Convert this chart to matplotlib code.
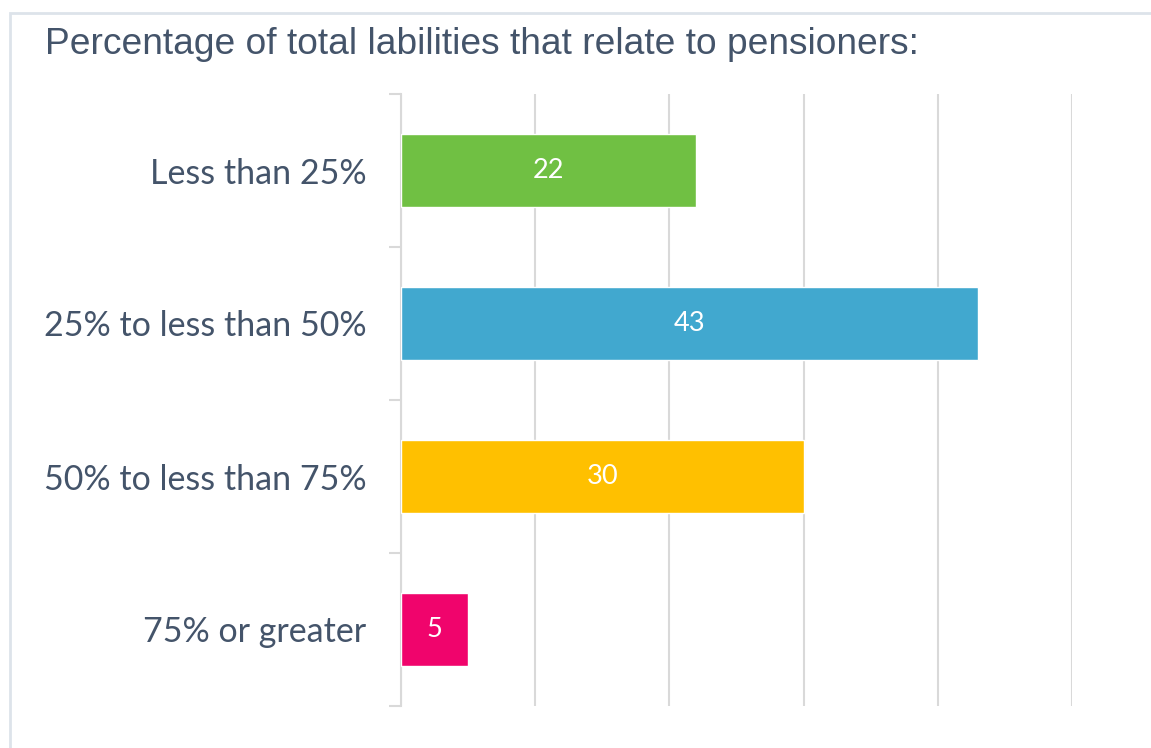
#!/usr/bin/env python3

from matplotlib import pyplot as plt
from matplotlib.patches import Rectangle
import numpy as np

# survey answers, top to bottom
categories = ['Less than 25%', '25% to less than 50%', '50% to less than 75%', '75% or greater']
shares = [22, 43, 30, 5]
bar_colors = ['#70c043', '#41a8cf', '#ffc000', '#f0046c']
grid_ticks = [0, 10, 20, 30, 40, 50]

title = 'Percentage of total labilities that relate to pensioners:'
text_color = '#44546a'
line_color = '#d9d9d9'


def main():
    fig = plt.figure(figsize=(11.51, 7.48), dpi=100)

    # light frame around the card
    fig.patches.append(Rectangle((10 / 1151, -0.1), 1.2, 1 - 13 / 748 + 0.1,
                                 transform=fig.transFigure, fill=False,
                                 edgecolor='#dde3ea', linewidth=2))

    ax = fig.add_axes([401 / 1151, 1 - 706 / 748, 671 / 1151, 612 / 748])

    y = np.arange(len(categories))
    bars = ax.barh(y, shares, height=0.48, color=bar_colors,
                   edgecolor='white', linewidth=1, zorder=3)
    for bar, v in zip(bars, shares):
        ax.text(bar.get_width() / 2, bar.get_y() + bar.get_height() / 2, str(v),
                ha='center', va='center', color='white', fontsize=19.5,
                family='Lato', zorder=4)

    ax.set_xlim(0, 50)
    ax.set_ylim(len(categories) - 0.5, -0.5)

    ax.set_xticks(grid_ticks)
    ax.tick_params(axis='x', length=0, labelbottom=False)
    ax.grid(axis='x', color=line_color, linewidth=1.5, zorder=0)

    ax.set_yticks(y)
    ax.set_yticklabels(categories, fontsize=24.5, color=text_color, family='Lato')
    ax.tick_params(axis='y', which='major', length=0, pad=25)
    ax.set_yticks(np.arange(len(categories) + 1) - 0.5, minor=True)
    ax.tick_params(axis='y', which='minor', length=9, width=1.5, color=line_color)

    for side in ['top', 'right', 'bottom']:
        ax.spines[side].set_visible(False)
    ax.spines['left'].set_color(line_color)
    ax.spines['left'].set_linewidth(1.5)

    fig.text(45 / 1151, 1 - 45 / 748, title, fontsize=26.7, color=text_color,
             family='Liberation Sans', ha='left', va='center')

    plt.savefig('out.png', dpi=100)


if __name__ == '__main__':
    main()
